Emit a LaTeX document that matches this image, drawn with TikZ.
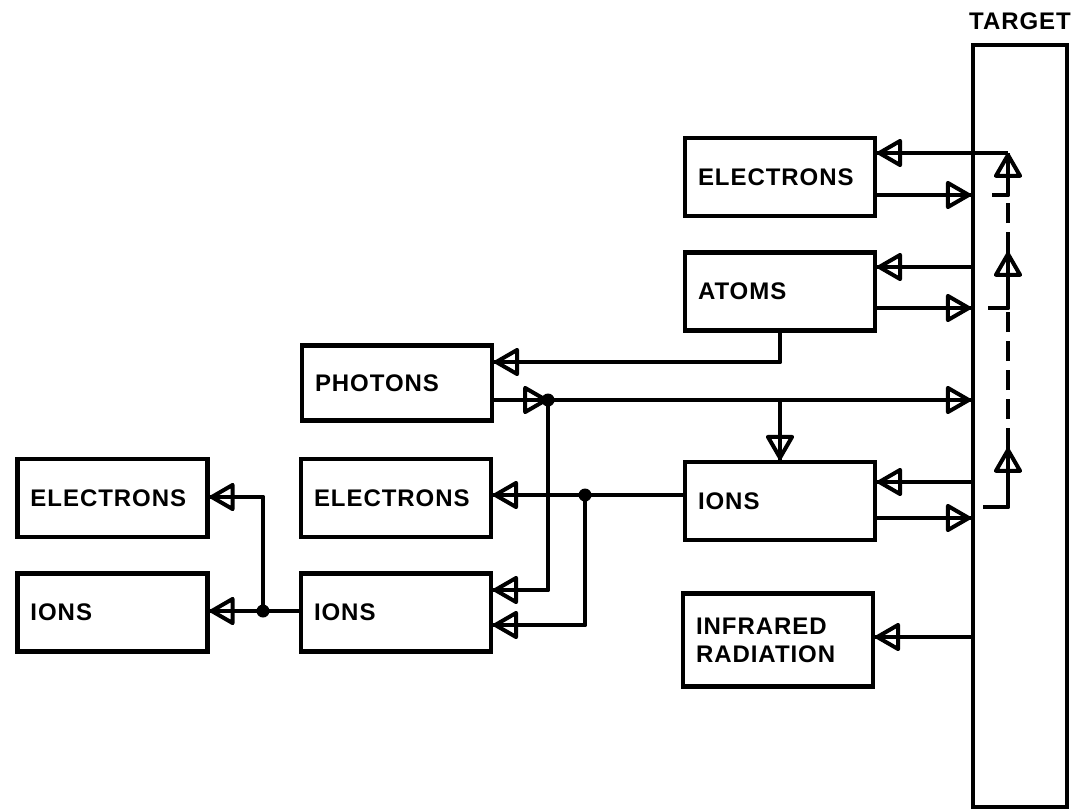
\documentclass[tikz,border=0pt]{standalone}
\usepackage{fontspec}
\setmainfont{Liberation Sans}[LetterSpace=4]
\usetikzlibrary{arrows.meta, positioning, calc}

\begin{document}
\begin{tikzpicture}[
  x=1pt, y=-1pt,
  box/.style={rectangle, draw, line width=4.5pt, minimum width=190pt, minimum height=78pt,
    text width=164pt, inner xsep=13pt, align=left, font=\fontsize{24}{28}\selectfont\bfseries},
  flow/.style={line width=4pt, line join=round,
    postaction={draw, -{Triangle[open, round, length=27pt, width=30pt]}}},
  back/.style={line width=4pt, dash pattern=on 20pt off 9pt},
  dot/.style={circle, fill, inner sep=0pt, minimum size=13pt},
  node distance=32pt
  ]
  \useasboundingbox (0,0) rectangle (1088,809);
  % target plate
  \node[draw, line width=4.5pt, minimum width=94pt, minimum height=762pt, inner sep=0pt] (tgt) at (1020,426) {};
  \node[font=\fontsize{24}{28}\selectfont\bfseries, above=9pt of tgt] (tlabel) {TARGET};
  % products
  \node[box] (e1) at (780,177) {ELECTRONS};
  \node[box, below=of e1] (atoms) {ATOMS};
  \node[box] (ions1) at (780,501) {IONS};
  \node[box, minimum height=93pt] (ir) at (778,640) {INFRARED\\RADIATION};
  \node[box, minimum height=75pt] (phot) at (397,383) {PHOTONS};
  \node[box] (e2) at (396,498) {ELECTRONS};
  \node[box, below=of e2] (ions2) {IONS};
  \node[box, left=89pt of e2] (e3) {ELECTRONS};
  \node[box, left=89pt of ions2] (ions3) {IONS};
  % junctions
  \node[dot] (j1) at (548,400) {};
  \node[dot] (j2) at (585,495) {};
  \node[dot] (j3) at (263,611) {};
  \coordinate (s1) at (992,195);
  \coordinate (s2) at (988,308);
  \coordinate (s3) at (983,507);
  \coordinate (u1) at (1008,153);
  \coordinate (u2) at (1008,252);
  \coordinate (u3) at (1008,448);
  % target exchange
  \draw[flow] (u1) -- (e1.east |- u1);
  \draw[flow] (e1.east |- s1) -- (tgt.west |- s1);
  \draw[flow] (tgt.west |- 0,267) -- (atoms.east |- 0,267);
  \draw[flow] (atoms.east |- s2) -- (tgt.west |- s2);
  \draw[flow] (tgt.west |- 0,482) -- (ions1.east |- 0,482);
  \draw[flow] (ions1.east |- 0,518) -- (tgt.west |- 0,518);
  \draw[flow] (tgt.west |- 0,637) -- (ir.east |- 0,637);
  % back flow
  \draw[flow] (s3) -| (u3);
  \draw[back] (u3) -- (u2 |- s2);
  \draw[flow] (s2) -| (u2);
  \draw[back] (u2) -- (u2 |- s1);
  \draw[flow] (s1) -| (u1);
  % secondary
  \draw[flow] (atoms.south) |- (phot.east |- 0,362);
  \draw[flow] (phot.east |- j1) -- (j1.center);
  \draw[flow] (j1.center) -- (tgt.west |- j1);
  \draw[flow] (ions1.north |- j1) -- (ions1.north);
  \draw[flow] (j1.center) |- (ions2.east |- 0,590);
  \draw[line width=4pt] (ions1.west |- j2) -- (j2.center);
  \draw[flow] (j2.center) -- (e2.east |- j2);
  \draw[flow] (j2.center) |- (ions2.east |- 0,625);
  \draw[line width=4pt] (ions2.west |- j3) -- (j3.center);
  \draw[flow] (j3.center) -- (ions3.east |- j3);
  \draw[flow] (j3.center) |- (e3.east |- 0,497);
\end{tikzpicture}
\end{document}
